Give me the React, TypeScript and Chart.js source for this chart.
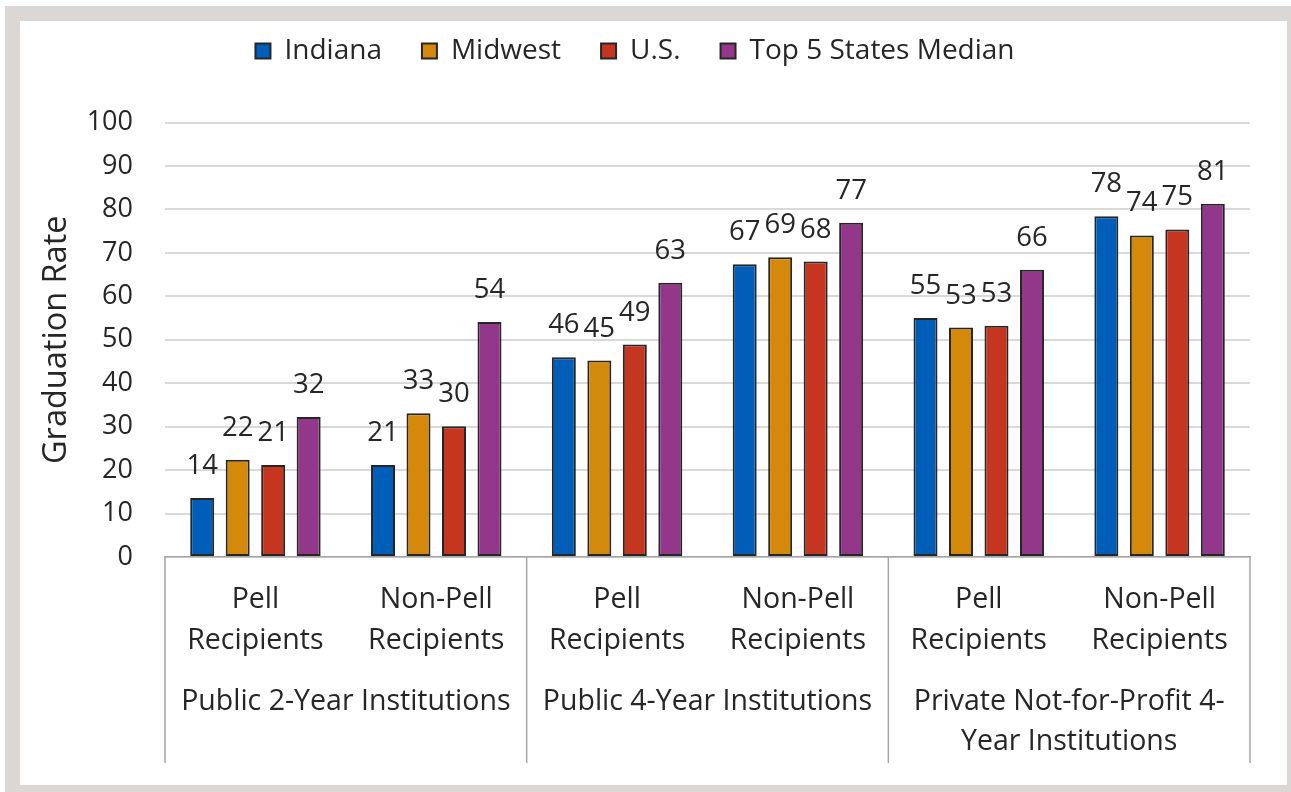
import React, { useEffect, useRef } from 'react';
import { Chart, registerables } from 'chart.js';

Chart.register(...registerables);

const subCategories: string[][] = [
  ['Pell', 'Recipients'],
  ['Non-Pell', 'Recipients'],
  ['Pell', 'Recipients'],
  ['Non-Pell', 'Recipients'],
  ['Pell', 'Recipients'],
  ['Non-Pell', 'Recipients'],
];
const groupLabels: string[][] = [
  ['Public 2-Year Institutions'],
  ['Public 4-Year Institutions'],
  ['Private Not-for-Profit 4-', 'Year Institutions'],
];
const seriesNames = ['Indiana', 'Midwest', 'U.S.', 'Top 5 States Median'];
const indiana = [13.6, 21.2, 46.0, 67.4, 55.0, 78.4];
const midwest = [22.4, 33.1, 45.2, 69.0, 52.8, 74.0];
const usValues = [21.2, 30.1, 48.9, 68.0, 53.2, 75.4];
const top5Median = [32.2, 54.1, 63.1, 76.9, 66.1, 81.3];
const seriesColors = ['#005eb8', '#d4890a', '#c5351f', '#93378a'];
const yMin = 0;
const yMax = 100;
const yStep = 10;
const yTitle = 'Graduation Rate';

const FONT = '"Open Sans", sans-serif';
const TEXT = '#262626';

export default function App() {
  const ref = useRef<HTMLCanvasElement>(null);

  useEffect(() => {
    const seriesValues = [indiana, midwest, usValues, top5Median];

    const layoutPlugin = {
      id: 'layoutTweaks',
      beforeLayout(chart: any) {
        const lg = chart.legend;
        if (lg && !lg.__patched) {
          const origFit = lg.fit;
          lg.fit = function () {
            origFit.call(this);
            this.height = 101.5;
          };
          lg.__patched = true;
        }
      },
      afterLayout(chart: any) {
        const lg = chart.legend;
        if (lg) {
          const pad = lg.options.labels.padding;
          const top = 30 - 14 - pad;
          lg.top = top;
          lg.bottom = top + lg.height;
        }
      },
    };

    const labelsPlugin = {
      id: 'barLabels',
      afterDatasetsDraw(chart: any) {
        const ctx = chart.ctx;
        ctx.save();
        ctx.font = `27.5px ${FONT}`;
        ctx.fillStyle = TEXT;
        ctx.textAlign = 'center';
        ctx.textBaseline = 'alphabetic';
        chart.data.datasets.forEach((ds: any, di: number) => {
          const meta = chart.getDatasetMeta(di);
          meta.data.forEach((el: any, i: number) => {
            const v = ds.data[i];
            ctx.fillText(String(Math.round(v)), el.x, el.y - 24);
          });
        });
        ctx.restore();
      },
    };

    const groupPlugin = {
      id: 'groupAxis',
      afterDraw(chart: any) {
        const ctx = chart.ctx;
        const x = chart.scales.x;
        const area = chart.chartArea;
        const px = (i: number) => x.getPixelForValue(i);
        ctx.save();
        ctx.strokeStyle = '#a6a6a6';
        ctx.lineWidth = 1.5;
        const seps = [area.left];
        for (let g = 0; g < groupLabels.length - 1; g++) {
          seps.push((px(g * 2 + 1) + px(g * 2 + 2)) / 2);
        }
        seps.push(area.right);
        seps.forEach((sx) => {
          ctx.beginPath();
          ctx.moveTo(sx, area.bottom);
          ctx.lineTo(sx, area.bottom + 206);
          ctx.stroke();
        });
        ctx.font = `28.5px ${FONT}`;
        ctx.fillStyle = TEXT;
        ctx.textAlign = 'center';
        ctx.textBaseline = 'middle';
        groupLabels.forEach((lines, g) => {
          const cx = (px(g * 2) + px(g * 2 + 1)) / 2;
          lines.forEach((line, li) => {
            ctx.fillText(line, cx, area.bottom + 145 + li * 40);
          });
        });
        ctx.restore();
      },
    };

    const chart = new Chart(ref.current as HTMLCanvasElement, {
      type: 'bar',
      data: {
        labels: subCategories,
        datasets: seriesNames.map((name, i) => ({
          label: name,
          data: seriesValues[i],
          backgroundColor: seriesColors[i],
          borderColor: '#262626',
          borderWidth: 2,
          borderSkipped: false,
          barPercentage: 0.676,
          categoryPercentage: 0.785,
        })),
      },
      options: {
        responsive: false,
        animation: false,
        devicePixelRatio: 1,
        layout: { padding: { left: 0, right: 37, top: 0, bottom: 0 } },
        plugins: {
          legend: {
            display: true,
            position: 'top',
            labels: {
              boxWidth: 15,
              boxHeight: 15,
              padding: 40,
              color: TEXT,
              font: { family: FONT, size: 28 },
            },
          },
          tooltip: { enabled: false },
          title: { display: false },
        },
        scales: {
          x: {
            afterFit(scale: any) {
              scale.height = 228;
            },
            grid: { display: false, drawTicks: false },
            border: { display: true, color: '#a6a6a6', width: 1.5 },
            ticks: {
              color: TEXT,
              font: { family: FONT, size: 28.5, lineHeight: 1.44 },
              padding: 22,
              maxRotation: 0,
              autoSkip: false,
            },
          },
          y: {
            min: yMin,
            max: yMax,
            afterFit(scale: any) {
              scale.width = 145;
            },
            grid: { color: '#d9d9d9', lineWidth: 2, drawTicks: false },
            border: { display: false },
            ticks: {
              stepSize: yStep,
              color: TEXT,
              padding: 32,
              font: { family: FONT, size: 27 },
            },
            title: {
              display: true,
              text: yTitle,
              color: TEXT,
              font: { family: FONT, size: 32.5 },
              padding: { top: 17, bottom: 0 },
            },
          },
        },
      },
      plugins: [layoutPlugin, labelsPlugin, groupPlugin],
    } as any);

    return () => chart.destroy();
  }, []);

  return (
    <div
      style={{
        position: 'fixed',
        left: 0,
        top: 0,
        width: 1291,
        height: 792,
        background: '#ffffff',
        overflow: 'hidden',
      }}
    >
      <div
        style={{
          position: 'absolute',
          left: 5,
          top: 6,
          width: 1267,
          height: 764,
          border: '15px solid #dad7d4',
          background: '#ffffff',
        }}
      >
        <canvas
          ref={ref}
          width={1267}
          height={764}
          style={{ display: 'block', width: 1267, height: 764 }}
        />
      </div>
    </div>
  );
}
